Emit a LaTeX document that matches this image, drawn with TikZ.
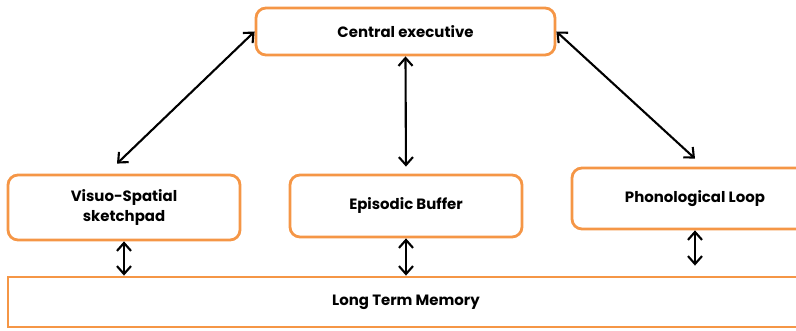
\documentclass[tikz,border=0pt]{standalone}
\usepackage{fontspec}
\setmainfont{Poppins}
\usetikzlibrary{arrows.meta}

\definecolor{boxorange}{RGB}{245,150,70}

\begin{document}
\begin{tikzpicture}[scale=1,
    box/.style={draw=boxorange, line width=1.6pt, rounded corners=0.2cm,
        align=center, inner sep=0pt, font=\fontsize{8.5}{11}\selectfont\bfseries},
    link/.style={line width=1.2pt, {Straight Barb[length=4.5pt,width=8pt]}-{Straight Barb[length=4.5pt,width=8pt]}}]

    % Fix the page size
    \useasboundingbox (0,0) rectangle (15.92,-6.62);

    % The central executive on top
    \node[box, minimum width=5.98cm, minimum height=0.94cm] (ce) at (8.11,-0.63) {Central executive};

    % The three slave systems in a row
    \node[box, minimum width=4.64cm, minimum height=1.3cm] (vss) at (2.48,-4.15) {Visuo-Spatial\\sketchpad};
    \node[box, minimum width=4.64cm, minimum height=1.24cm] (eb) at (8.12,-4.12) {Episodic Buffer};
    \node[box, minimum width=4.92cm, minimum height=1.22cm] (pl) at (13.9,-3.97) {Phonological Loop};

    % Long term memory along the bottom (square corners)
    \node[box, rounded corners=0pt, minimum width=15.92cm, minimum height=1.0cm] (ltm) at (8.12,-6.04) {Long Term Memory};

    % Free ends of the two slanted arrows, just above the boxes
    \coordinate (vsstop) at ([xshift=-0.14cm, yshift=0.2cm]vss.north);
    \coordinate (pltop) at ([yshift=0.16cm]pl.north);

    % Arrows from the central executive down to each system
    \draw[link] (ce.west) -- (vsstop);
    \draw[link, shorten >=0.14cm] (ce.south) -- (eb.north);
    \draw[link] (ce.east) -- (pltop);

    % Short arrows to long term memory
    \draw[link] (vss.south) -- (vss.south |- ltm.north);
    \draw[link] (eb.south) -- (eb.south |- ltm.north);
    \draw[link, shorten >=0.2cm] (pl.south) -- (pl.south |- ltm.north);

\end{tikzpicture}
\end{document}
